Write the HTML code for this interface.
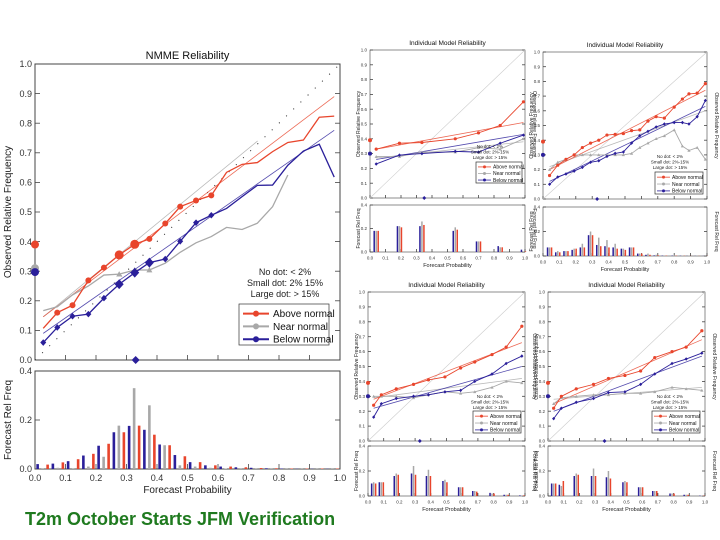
<!DOCTYPE html>
<html><head><meta charset="utf-8">
<style>
html,body{margin:0;padding:0;background:#fff;}
svg{display:block;font-family:"Liberation Sans",Arial,sans-serif;}
</style></head>
<body>
<svg id="c" width="720" height="540" viewBox="0 0 720 540">
<text x="25" y="525" font-size="18" font-weight="bold" fill="#1f7a1f">T2m October Starts JFM Verification</text>
</svg>
<script>
// ===== Main chart data =====
const mainX = [0.027,0.073,0.123,0.175,0.226,0.276,0.327,0.375,0.427,0.476,0.528,0.578,0.628,0.679,0.729,0.779,0.829,0.880,0.932,0.981];
const mainAbove = [0.107,0.16,0.185,0.269,0.312,0.355,0.391,0.409,0.461,0.518,0.539,0.556,0.634,0.661,0.667,0.704,0.735,0.743,0.82,0.824];
const mainBelow = [0.059,0.11,0.148,0.155,0.209,0.256,0.295,0.329,0.341,0.401,0.464,0.489,0.512,0.552,0.59,0.591,0.658,0.706,0.729,0.618];
const mainNearX = [0.027,0.073,0.123,0.175,0.226,0.276,0.327,0.375,0.427,0.476,0.528,0.578,0.628,0.679,0.729,0.779,0.829];
const mainNear = [0.167,0.18,0.22,0.25,0.287,0.29,0.304,0.304,0.327,0.364,0.396,0.417,0.448,0.441,0.462,0.518,0.625];
const mainAboveDot = [0,1,1,1,1,2,2,1,1,1,1,1,0,0,0,0,0,0,0,0];
const mainBelowDot = [1,1,1,1,1,2,2,2,1,1,1,1,0,0,0,0,0,0,0,0];
const mainNearDot = [0,0,0,0,0,1,1,1,0,0,0,0,0,0,0,0,0];
const mainAboveFit = [[0.027,0.146],[0.981,0.89]];
const mainBelowFit = [[0.027,0.09],[0.981,0.776]];
const mainNearFit = [[0.027,0.146],[0.73,0.74]];
const mainClim = {above:0.39, near:0.31, below:0.297, mean:0.33};
const mainHistX = [0.025,0.075,0.125,0.175,0.225,0.275,0.325,0.375,0.425,0.475,0.525,0.575,0.625,0.675,0.725,0.775,0.825,0.875,0.925,0.975];
const mainHistBelow = [0.02,0.022,0.032,0.055,0.095,0.15,0.176,0.16,0.1,0.057,0.028,0.015,0.01,0.007,0.005,0.003,0.002,0.001,0.001,0.001];
const mainHistNear = [0.003,0.005,0.003,0.01,0.05,0.177,0.33,0.26,0.097,0.015,0.01,0.005,0.002,0.001,0.001,0.001,0.001,0.001,0.001,0.001];
const mainHistAbove = [0.018,0.027,0.04,0.062,0.103,0.15,0.177,0.14,0.097,0.052,0.028,0.015,0.01,0.007,0.004,0.003,0.002,0.002,0.002,0.002];

// ===== Small panel data =====
const tlX = [0.04,0.19,0.335,0.55,0.70,0.84,0.99];
const tlAbove = [0.33,0.37,0.375,0.40,0.44,0.49,0.65];
const tlBelow = [0.23,0.29,0.30,0.315,0.31,0.37,0.425];
const tlNear = [0.28,0.28,0.31,0.31,0.34,0.33,0.40];
const tlHistBelow = [0.18,0.22,0.22,0.18,0.09,0.05,0.02];
const tlHistNear = [0.18,0.22,0.26,0.21,0.09,0.04,0.005];
const tlHistAbove = [0.18,0.21,0.23,0.19,0.09,0.04,0.005];

const trX = [0.04,0.09,0.14,0.19,0.24,0.29,0.34,0.39,0.44,0.49,0.54,0.59,0.64,0.69,0.74,0.80,0.85,0.89,0.94,0.99];
const trAbove = [0.16,0.23,0.27,0.30,0.35,0.38,0.40,0.435,0.44,0.445,0.465,0.47,0.53,0.56,0.55,0.625,0.68,0.715,0.72,0.785];
const trBelow = [0.10,0.15,0.17,0.19,0.215,0.25,0.26,0.29,0.31,0.32,0.38,0.43,0.46,0.49,0.51,0.52,0.52,0.51,0.56,0.67];
const trNear = [0.2,0.25,0.27,0.30,0.30,0.30,0.30,0.30,0.30,0.30,0.31,0.35,0.38,0.41,0.43,0.47,0.36,0.33,0.35,0.27];
const trHistBelow = [0.07,0.03,0.04,0.05,0.07,0.17,0.09,0.08,0.07,0.06,0.07,0.02,0.01,0.005,0.003,0.003,0.002,0.001,0.001,0.001];
const trHistNear = [0.07,0.04,0.04,0.06,0.10,0.20,0.15,0.13,0.10,0.06,0.07,0.02,0.02,0.01,0.005,0.005,0.003,0.002,0.001,0.001];
const trHistAbove = [0.07,0.03,0.04,0.06,0.07,0.17,0.08,0.07,0.06,0.05,0.07,0.02,0.01,0.005,0.003,0.003,0.002,0.001,0.001,0.001];

const blX = [0.036,0.085,0.18,0.29,0.385,0.49,0.59,0.68,0.79,0.88,0.98];
const blAbove = [0.24,0.31,0.35,0.38,0.41,0.43,0.49,0.53,0.58,0.63,0.77];
const blBelow = [0.16,0.25,0.285,0.30,0.31,0.33,0.34,0.40,0.45,0.52,0.57];
const blNear = [0.30,0.30,0.30,0.29,0.31,0.33,0.32,0.33,0.36,0.40,0.39];
const blHistBelow = [0.10,0.11,0.16,0.18,0.16,0.12,0.07,0.04,0.025,0.01,0.005];
const blHistNear = [0.11,0.11,0.18,0.24,0.21,0.13,0.07,0.04,0.02,0.01,0.005];
const blHistAbove = [0.10,0.11,0.17,0.17,0.16,0.11,0.07,0.035,0.02,0.01,0.005];

const brX = [0.036,0.085,0.18,0.29,0.385,0.49,0.59,0.68,0.79,0.88,0.98];
const brAbove = [0.22,0.30,0.35,0.38,0.42,0.44,0.47,0.56,0.60,0.63,0.74];
const brBelow = [0.15,0.22,0.26,0.285,0.325,0.33,0.38,0.45,0.52,0.55,0.59];
const brNear = [0.25,0.29,0.30,0.31,0.31,0.32,0.32,0.33,0.36,0.35,0.34];
const brHistBelow = [0.10,0.09,0.16,0.16,0.15,0.11,0.07,0.04,0.02,0.01,0.003];
const brHistNear = [0.10,0.08,0.18,0.22,0.20,0.12,0.07,0.04,0.02,0.01,0.003];
const brHistAbove = [0.10,0.12,0.17,0.16,0.14,0.11,0.07,0.04,0.02,0.01,0.003];

const tickLabels = ["0.0","0.1","0.2","0.3","0.4","0.5","0.6","0.7","0.8","0.9","1.0"];
const histTickVals = [0.0,0.2,0.4];
const histTickLabels = ["0.0","0.2","0.4"];

const RED="#e8452c", BLUE="#2a1f9a", GRAY="#a8a8a8";
const svg=document.getElementById('c');
const NS="http://www.w3.org/2000/svg";
function mk(tag,attrs,parent){const e=document.createElementNS(NS,tag);for(const k in attrs)e.setAttribute(k,attrs[k]);(parent||svg).appendChild(e);return e;}

function panel(g){
  const X=v=>g.x0+(g.x1-g.x0)*v;
  const Y=v=>g.y0+(g.y1-g.y0)*v;
  const H=v=>g.h0+(g.h4-g.h0)*v/0.4;
  const fs=g.fs;
  // boxes
  const box=mk('rect',{x:g.x0,y:g.y1,width:g.x1-g.x0,height:g.y0-g.y1,fill:'none',stroke:'#444','stroke-width':g.main?1:0.6});
  
  
  const hb=mk('rect',{x:g.x0,y:g.h4,width:g.x1-g.x0,height:g.h0-g.h4,fill:'none',stroke:'#444','stroke-width':g.main?1:0.6});
  
  
  // title
  const t=mk('text',{x:(g.x0+g.x1)/2,y:g.y1-5,'font-size':g.main?11:6.5,'text-anchor':'middle',fill:'#111'});
  t.textContent=g.title;
  
  
  // y ticks reliability
  for(let i=0;i<=10;i++){
    const y=Y(i/10), tl=g.main?5:3;
    mk('line',{x1:g.x0,x2:g.x0+tl,y1:y,y2:y,stroke:'#444','stroke-width':0.8});
    mk('line',{x1:g.x1,x2:g.x1-tl,y1:y,y2:y,stroke:'#444','stroke-width':0.8});
    const l=mk('text',{x:g.x0-3,y:y+fs*0.35,'font-size':fs,'text-anchor':'end',fill:'#333'});
    l.textContent=tickLabels[i];
    
    
  }
  // x ticks + labels on histogram
  for(let i=0;i<=10;i++){
    const x=X(i/10), tl=g.main?5:3;
    mk('line',{x1:x,x2:x,y1:g.h0,y2:g.h0-tl,stroke:'#444','stroke-width':0.8});
    mk('line',{x1:x,x2:x,y1:g.y0,y2:g.y0-tl,stroke:'#444','stroke-width':0.8});
    const l=mk('text',{x:x,y:g.h0+fs+3,'font-size':fs,'text-anchor':'middle',fill:'#333'});
    l.textContent=tickLabels[i];
    
    
  }
  histTickVals.forEach((v,i)=>{
    const y=H(v);
    mk('line',{x1:g.x0,x2:g.x0+(g.main?5:3),y1:y,y2:y,stroke:'#444','stroke-width':0.8});
    mk('line',{x1:g.x1,x2:g.x1-(g.main?5:3),y1:y,y2:y,stroke:'#444','stroke-width':0.8});
    const l=mk('text',{x:g.x0-3,y:y+fs*0.35,'font-size':fs,'text-anchor':'end',fill:'#333'});
    l.textContent=histTickLabels[i];
    
    
  });
  // axis titles
  const yt=mk('text',{x:0,y:0,'font-size':g.main?10:5,'text-anchor':'middle',fill:'#222',transform:`translate(${g.ylx},${(g.y0+g.y1)/2}) rotate(-90)`});
  yt.textContent='Observed Relative Frequency';
  
  
  const ht=mk('text',{x:0,y:0,'font-size':g.main?10:5,'text-anchor':'middle',fill:'#222',transform:`translate(${g.ylx},${(g.h0+g.h4)/2}) rotate(-90)`});
  ht.textContent=g.main?'Forecast Rel Freq':'Forecast Rel Freq';
  
  
  if(!g.main){
    const yr=mk('text',{x:0,y:0,'font-size':5,'text-anchor':'middle',fill:'#222',transform:`translate(${g.x1+8},${(g.y0+g.y1)/2}) rotate(90)`});
    yr.textContent='Observed Relative Frequency';
    
    
    const hr=mk('text',{x:0,y:0,'font-size':5,'text-anchor':'middle',fill:'#222',transform:`translate(${g.x1+8},${(g.h0+g.h4)/2}) rotate(90)`});
    hr.textContent='Forecast Rel Freq';
    
    
  }
  const xt=mk('text',{x:(g.x0+g.x1)/2,y:g.h0+fs*2+6,'font-size':g.main?10:5.5,'text-anchor':'middle',fill:'#222'});
  xt.textContent='Forecast Probability';
  
  
  // diagonal
  const dg=mk('line',{x1:X(0),y1:Y(0),x2:X(1),y2:Y(1),stroke:g.main?'#222':'#ccc','stroke-width':g.main?1:0.6,'stroke-dasharray':g.main?'1,9':'none'});
  
  
  // fit lines
  const fits=[[g.nf,GRAY],[g.af,RED],[g.bf,BLUE]];
  fits.forEach(([f,c])=>{
    const l=mk('line',{x1:X(f[0][0]),y1:Y(f[0][1]),x2:X(f[1][0]),y2:Y(f[1][1]),stroke:c,'stroke-width':0.8,opacity:0.8});
    
    
  });
  // series
  const series=[[g.nx,g.n,GRAY,'near-normal',g.nd,'tri'],[g.x,g.a,RED,'above-normal',g.ad,'circ'],[g.x,g.b,BLUE,'below-normal',g.bd,'dia']];
  series.forEach(([xs,ys,c,nm,dots,shape])=>{
    const p=mk('polyline',{points:xs.map((x,i)=>X(x)+','+Y(ys[i])).join(' '),fill:'none',stroke:c,'stroke-width':g.main?1.3:0.9});
    
    
    xs.forEach((x,i)=>{
      const d=dots?dots[i]:1; if(!d)return;
      const r=(g.main?(d===2?4.5:3):1.6);
      const cx=X(x), cy=Y(ys[i]);
      let m;
      if(shape==='circ') m=mk('circle',{cx,cy,r,fill:c});
      else if(shape==='tri') m=mk('polygon',{points:`${cx},${cy-r} ${cx-r},${cy+r*0.8} ${cx+r},${cy+r*0.8}`,fill:c});
      else m=mk('polygon',{points:`${cx},${cy-r*1.1} ${cx+r},${cy} ${cx},${cy+r*1.1} ${cx-r},${cy}`,fill:c});
      
      
    });
  });
  // climatology markers on y axis and mean marker
  const r=g.main?4:2;
  [[g.clim.near,GRAY],[g.clim.above,RED],[g.clim.below,BLUE]].forEach(([v,c])=>{
    const m=mk('circle',{cx:X(0),cy:Y(v),r,fill:c});
    
    
  });
  const mm=mk('polygon',{points:`${X(g.clim.mean)},${Y(0)-r} ${X(g.clim.mean)+r},${Y(0)} ${X(g.clim.mean)},${Y(0)+r} ${X(g.clim.mean)-r},${Y(0)}`,fill:BLUE});
  
  
  // histogram bars
  const bw=g.main?2.6:1.5;
  const hs=[[g.hb,BLUE,-g.off],[g.hn,GRAY,0],[g.ha,RED,g.off]];
  hs.forEach(([vals,c,o])=>{
    g.hx.forEach((x,i)=>{
      const cx=X(x)+o;
      const b=mk('rect',{x:cx-bw/2,y:H(vals[i]),width:bw,height:Math.max(0,H(0)-H(vals[i])),fill:c});
      
      
    });
  });
  // notes & legend
  const L=g.leg, ls=g.main?1:0.5;
  const notes=['No dot: < 2%', g.main?'Small dot: 2% 15%':'Small dot: 2%-15%', 'Large dot: > 15%'];
  notes.forEach((s,i)=>{
    const n=mk('text',{x:L.nx,y:L.ny+i*11*ls,'font-size':9*ls,'text-anchor':'middle',fill:'#222'});
    n.textContent=s;
    
    
  });
  const lg=mk('rect',{x:L.x,y:L.y,width:L.w,height:L.h,fill:'#fff',stroke:'#333','stroke-width':0.7});
  
  
  [['Above normal',RED],['Near normal',GRAY],['Below normal',BLUE]].forEach(([s,c],i)=>{
    const y=L.y+(i+0.75)*L.h/3.2;
    mk('line',{x1:L.x+4*ls,x2:L.x+30*ls,y1:y,y2:y,stroke:c,'stroke-width':g.main?2:0.8});
    mk('circle',{cx:L.x+17*ls,cy:y,r:3*ls,fill:c});
    const tx=mk('text',{x:L.x+34*ls,y:y+3.5*ls,'font-size':10*ls,fill:'#111'});
    tx.textContent=s;
    
    
  });
}

panel({name:'nmme',main:true,title:'NMME Reliability',fs:9,x0:35,x1:340,y0:360,y1:64,h0:469,h4:371,ylx:11,
  x:mainX,a:mainAbove,b:mainBelow,nx:mainNearX,n:mainNear,ad:mainAboveDot,bd:mainBelowDot,nd:mainNearDot,
  af:mainAboveFit,bf:mainBelowFit,nf:mainNearFit,clim:mainClim,hx:mainHistX,hb:mainHistBelow,hn:mainHistNear,ha:mainHistAbove,off:5,
  leg:{nx:285,ny:275,x:239,y:304,w:90,h:41}});

function smallPanel(name,geo,xs,a,b,n,hb,hn,ha,af,bf,nf,mean){
  panel(Object.assign({name,main:false,title:'Individual Model Reliability',fs:4.5,
    x:xs,a,b,nx:xs,n,ad:null,bd:null,nd:null,af,bf,nf,clim:{above:0.39,near:0.3,below:0.3,mean},
    hx:xs,hb,hn,ha,off:2},geo));
}
smallPanel('model-1',{x0:370,x1:525,y0:198,y1:50,h0:252,h4:205,ylx:360,leg:{nx:490,ny:148,x:476,y:162,w:46,h:21}},
  tlX,tlAbove,tlBelow,tlNear,tlHistBelow,tlHistNear,tlHistAbove,[[0.04,0.33],[0.99,0.51]],[[0.04,0.26],[0.99,0.43]],[[0.04,0.27],[0.99,0.38]],0.35);
smallPanel('model-2',{x0:543,x1:707,y0:199,y1:52,h0:256,h4:207,ylx:533,leg:{nx:670,ny:158,x:655,y:172,w:48,h:22}},
  trX,trAbove,trBelow,trNear,trHistBelow,trHistNear,trHistAbove,[[0.04,0.2],[0.99,0.74]],[[0.04,0.12],[0.99,0.63]],[[0.04,0.22],[0.99,0.6]],0.33);
smallPanel('model-3',{x0:368,x1:525,y0:441,y1:292,h0:496,h4:446,ylx:358,leg:{nx:490,ny:398,x:473,y:411,w:48,h:22}},
  blX,blAbove,blBelow,blNear,blHistBelow,blHistNear,blHistAbove,[[0.036,0.28],[0.98,0.66]],[[0.036,0.22],[0.98,0.5]],[[0.036,0.29],[0.98,0.42]],0.33);
smallPanel('model-4',{x0:548,x1:705,y0:441,y1:292,h0:496,h4:446,ylx:538,leg:{nx:670,ny:398,x:652,y:411,w:48,h:22}},
  brX,brAbove,brBelow,brNear,brHistBelow,brHistNear,brHistAbove,[[0.036,0.25],[0.98,0.68]],[[0.036,0.2],[0.98,0.57]],[[0.036,0.28],[0.98,0.36]],0.36);
</script>
</body></html>
